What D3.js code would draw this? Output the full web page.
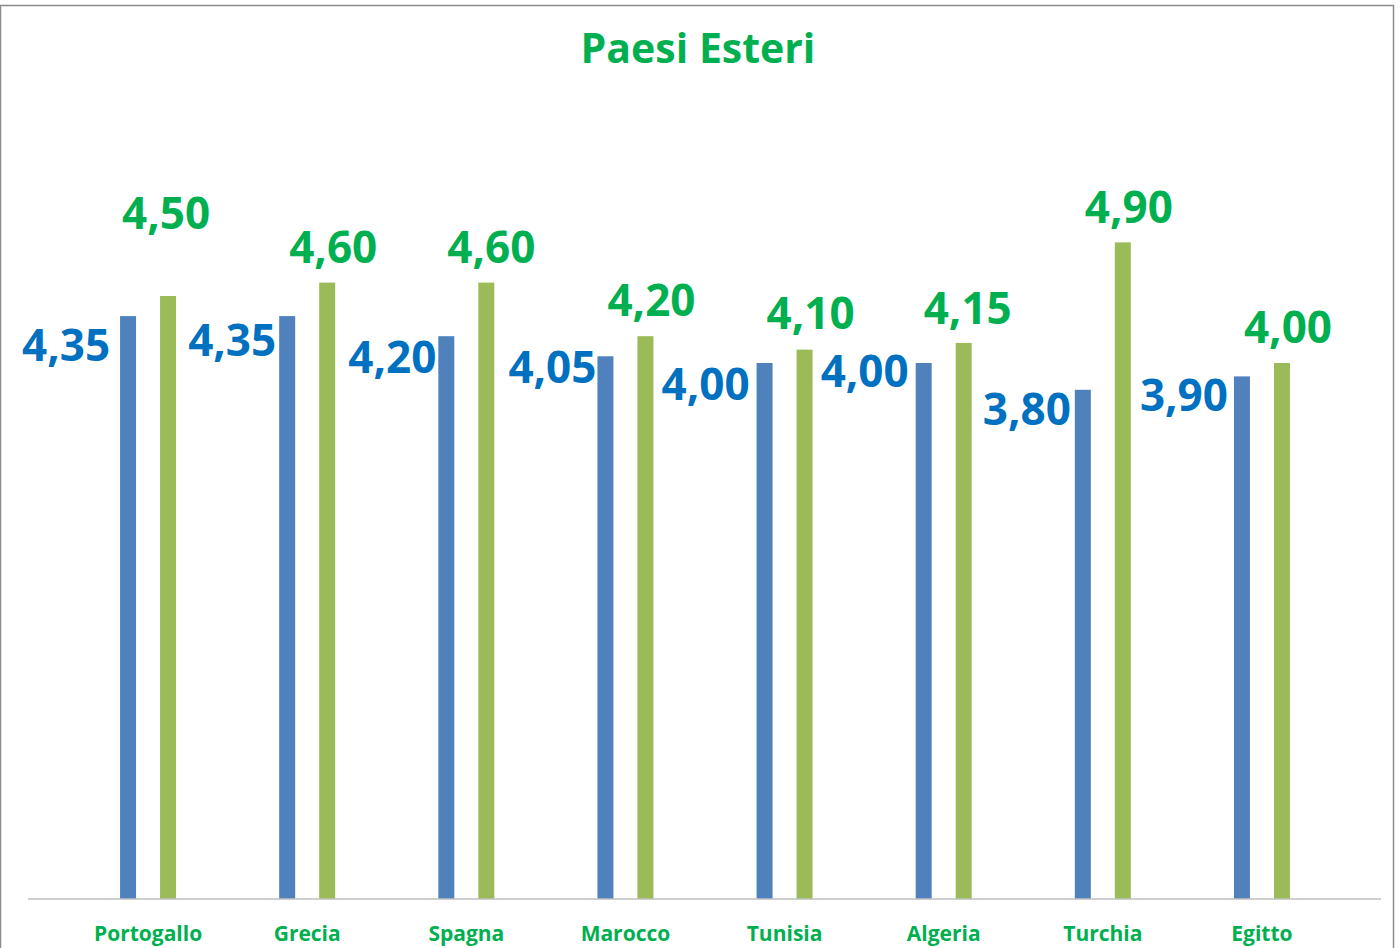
<!DOCTYPE html>
<html>
<head>
<meta charset="utf-8">
<script src="https://cdn.jsdelivr.net/npm/d3@7/dist/d3.min.js"></script>
<style>
  body { margin: 0; background: #fff; }
  svg { display: block; font-family: "Open Sans", sans-serif; }
</style>
</head>
<body>
<svg id="chart" width="1400" height="948"></svg>
<script>
var categories = ["Portogallo", "Grecia", "Spagna", "Marocco", "Tunisia", "Algeria", "Turchia", "Egitto"];
var seriesA = [4.35, 4.35, 4.20, 4.05, 4.00, 4.00, 3.80, 3.90];
var seriesB = [4.50, 4.60, 4.60, 4.20, 4.10, 4.15, 4.90, 4.00];
// hand placed label offsets (dx, dy) like in the original sheet
var nudgeA = [[-10, 29], [-3, 24], [-2, 21], [-1, 11], [-7, 21], [-7, 8], [-4, 19], [-6, 19]];
var nudgeB = [[-2, -83], [6, -35], [5, -35], [6, -36], [6, -36], [4, -35], [6, -35], [6, -36]];

var svg = d3.select("#chart");
var W = 1400, H = 948;
var baseY = 899;

// frame
svg.append("rect")
  .attr("x", 0.5).attr("y", 5.5)
  .attr("width", 1393).attr("height", H)
  .attr("fill", "#fff")
  .attr("stroke", "#8c8c8c")
  .attr("stroke-width", 1.5);

svg.append("text")
  .attr("x", 698).attr("y", 63)
  .attr("text-anchor", "middle")
  .attr("font-size", 41)
  .attr("font-weight", "bold")
  .attr("fill", "#00b050")
  .text("Paesi Esteri");

var x0 = d3.scaleBand().domain(categories).range([68.5, 1341.5]).padding(0);
var x1 = d3.scalePoint().domain(["a", "b"]).range([-20, 20]);
var y = d3.scaleLinear().domain([0, 5]).range([baseY, 229]);
var barW = 16;

var fmt = function(v){ return d3.format(".2f")(v).replace(".", ","); };

var g = svg.append("g");

var groups = g.selectAll("g.cat")
  .data(categories)
  .join("g")
  .attr("class", "cat")
  .attr("transform", function(d){ return "translate(" + (x0(d) + x0.bandwidth()/2) + ",0)"; });

groups.append("rect")
  .attr("x", x1("a") - barW/2)
  .attr("y", function(d, i){ return y(seriesA[i]); })
  .attr("width", barW)
  .attr("height", function(d, i){ return baseY - y(seriesA[i]); })
  .attr("fill", "#4f81bd");

groups.append("rect")
  .attr("x", x1("b") - barW/2)
  .attr("y", function(d, i){ return y(seriesB[i]); })
  .attr("width", barW)
  .attr("height", function(d, i){ return baseY - y(seriesB[i]); })
  .attr("fill", "#9bbb59");

// axis line
var xAxis = d3.axisBottom(x0).tickSize(0).tickPadding(27);
var ax = svg.append("g").attr("transform", "translate(0," + baseY + ")").call(xAxis);
ax.select(".domain").remove();
ax.append("line").attr("x1", 28).attr("x2", 1381).attr("y1", 0).attr("y2", 0)
  .attr("stroke", "#bfbfbf").attr("stroke-width", 1.5);
ax.selectAll(".tick text")
  .attr("font-family", "Open Sans")
  .attr("font-size", 21)
  .attr("font-weight", "bold")
  .attr("fill", "#00b050")
  .attr("dy", "0.71em");

groups.append("text")
  .attr("x", function(d, i){ return x1("a") - barW/2 + nudgeA[i][0]; })
  .attr("y", function(d, i){ return y(seriesA[i]) + nudgeA[i][1]; })
  .attr("dy", "0.36em")
  .attr("text-anchor", "end")
  .attr("font-size", 44)
  .attr("font-weight", "bold")
  .attr("fill", "#0070c0")
  .text(function(d, i){ return fmt(seriesA[i]); });

groups.append("text")
  .attr("x", function(d, i){ return x1("b") + nudgeB[i][0]; })
  .attr("y", function(d, i){ return y(seriesB[i]) + nudgeB[i][1]; })
  .attr("dy", "0.36em")
  .attr("text-anchor", "middle")
  .attr("font-size", 44)
  .attr("font-weight", "bold")
  .attr("fill", "#00b050")
  .text(function(d, i){ return fmt(seriesB[i]); });
</script>
</body>
</html>
